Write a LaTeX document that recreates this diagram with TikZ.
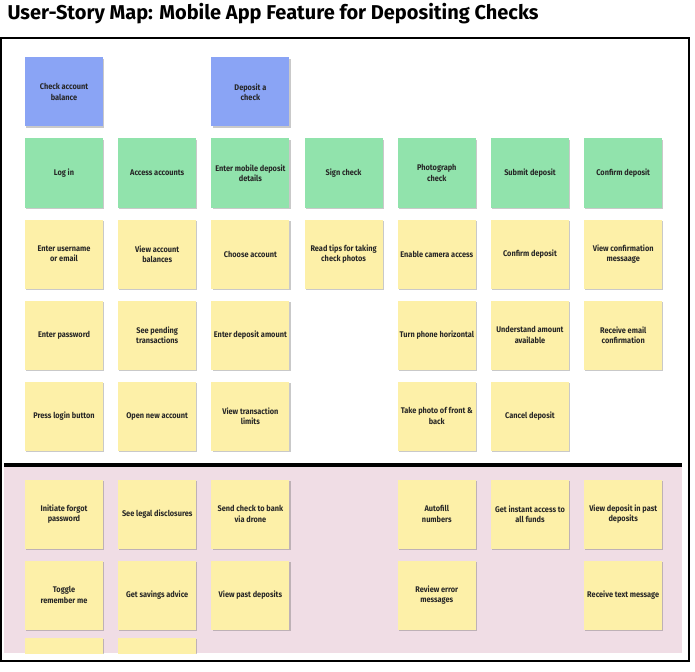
\documentclass[tikz,border=0pt]{standalone}
\usepackage{fontspec}
\setmainfont{Fira Sans}
\newfontfamily\notefont[FakeStretch=0.9]{Fira Sans}
\usetikzlibrary{shadows}

\definecolor{epicblue}{RGB}{138,164,245}
\definecolor{taskgreen}{RGB}{145,227,172}
\definecolor{storyyellow}{RGB}{253,240,168}
\definecolor{laterpink}{RGB}{240,221,229}

\tikzset{
    note/.style={minimum width=78pt, minimum height=69pt, inner sep=1pt, align=center,
        font=\notefont\bfseries\fontsize{8.2}{10.2}\selectfont, text=black!85,
        drop shadow={shadow xshift=1.2pt, shadow yshift=-1.4pt, opacity=0.3, fill=black!70}},
    epic/.style={note, fill=epicblue},
    task/.style={note, fill=taskgreen},
    story/.style={note, fill=storyyellow},
}

\begin{document}
\begin{tikzpicture}[x=1pt, y=-1pt]

    \useasboundingbox (0,0) rectangle (695,671);

    % Column spacing
    \pgfmathsetmacro{\xs}{64}
    \pgfmathsetmacro{\dx}{93.2}

    % Title
    \node[anchor=base west, font=\bfseries\fontsize{20}{23}\selectfont] (title) at (4,20)
        {User-Story Map: Mobile App Feature for Depositing Checks};

    % Release below the line (pink band), clipped at its bottom
    \begin{scope}
        \clip (4,467) rectangle (682,653);
        \fill[laterpink] (4,467) rectangle (682,653);
        \foreach \c/\y/\txt in {1/514/{Initiate forgot\\password}, 1/595/{Toggle\\remember me}, 1/672/{},
                                2/514/{See legal disclosures}, 2/595/{Get savings advice}, 2/672/{},
                                3/514/{Send check to bank\\via drone}, 3/595/{View past deposits},
                                5/514/{Autofill\\numbers}, 5/595/{Review error\\messages},
                                6/514/{Get instant access to\\all funds},
                                7/514/{View deposit in past\\deposits}, 7/595/{Receive text message}} {
            \node[story] (later-\c-\y) at ({\xs+\dx*(\c-1)}, \y) {\txt};
        }
    \end{scope}

    % Frame and release line
    \draw[line width=2.5pt] (1,38) rectangle (689,661);
    \draw[line width=4pt] (4,465) -- (682,465);

    % Activities
    \foreach \c/\txt in {1/{Check account\\balance}, 3/{Deposit a\\check}} {
        \node[epic] (epic-\c) at ({\xs+\dx*(\c-1)}, 92) {\txt};
    }

    % Steps
    \foreach \c/\txt in {1/{Log in}, 2/{Access accounts}, 3/{Enter mobile deposit\\details},
                         4/{Sign check}, 5/{Photograph\\check}, 6/{Submit deposit}, 7/{Confirm deposit}} {
        \node[task] (task-\c) at ({\xs+\dx*(\c-1)}, 173) {\txt};
    }

    % Stories of the first release
    \foreach \c/\y/\txt in {1/254/{Enter username\\or email}, 1/335/{Enter password}, 1/416/{Press login button},
                            2/254/{View account\\balances}, 2/335/{See pending\\transactions}, 2/416/{Open new account},
                            3/254/{Choose account}, 3/335/{Enter deposit amount}, 3/416/{View transaction\\limits},
                            4/254/{Read tips for taking\\check photos},
                            5/254/{Enable camera access}, 5/335/{Turn phone horizontal}, 5/416/{Take photo of front \&\\back},
                            6/254/{Confirm deposit}, 6/335/{Understand amount\\available}, 6/416/{Cancel deposit},
                            7/254/{View confirmation\\messaage}, 7/335/{Receive email\\confirmation}} {
        \node[story] (story-\c-\y) at ({\xs+\dx*(\c-1)}, \y) {\txt};
    }

\end{tikzpicture}
\end{document}
